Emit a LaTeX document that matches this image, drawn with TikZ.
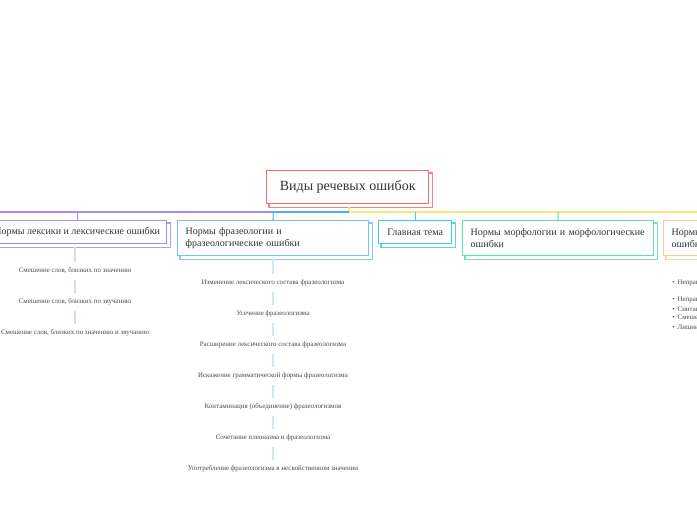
\documentclass[tikz,border=0pt]{standalone}
\usepackage{fontspec}
\setmainfont{Liberation Serif}
\usetikzlibrary{backgrounds}
\definecolor{rootred}{HTML}{F26C6C}
\definecolor{lav}{HTML}{A38CF6}
\definecolor{lavlight}{HTML}{DDD6FB}
\definecolor{mag}{HTML}{C77FE8}
\definecolor{skyb}{HTML}{7DBDF7}
\definecolor{skyline}{HTML}{5AAAF0}
\definecolor{skylight}{HTML}{CFE6FB}
\definecolor{teal1}{HTML}{3ACFDB}
\definecolor{mint}{HTML}{62DDB8}
\definecolor{orng}{HTML}{FFC6A0}
\definecolor{yel}{HTML}{F5E97A}
\definecolor{txt}{HTML}{333333}
\definecolor{subtxt}{HTML}{4A4A4A}
\begin{document}
\begin{tikzpicture}[x=0.75pt,y=-0.75pt,
  box/.style={draw, line width=1.1pt, fill=white, anchor=north west, inner ysep=0pt, text=txt,
    font=\fontsize{7.5}{9.5}\selectfont, minimum height=17.25pt},
  onebox/.style={box, align=center, inner xsep=0pt},
  twobox/.style={box, align=left, inner xsep=6pt, text width=131.25pt, minimum height=26.25pt},
  subitem/.style={font=\fontsize{5.2}{6}\selectfont, text=subtxt, inner xsep=0pt, inner ysep=4pt},
  rightitem/.style={font=\fontsize{5.2}{6}\selectfont, text=subtxt, inner sep=0pt, anchor=west},
  conn/.style={line width=0.8pt},
  subconn/.style={line width=1.1pt}]
\useasboundingbox (0,0) rectangle (697,520);

% root
\node[draw=rootred, line width=1.1pt, fill=white, anchor=north west, minimum width=121.5pt, minimum height=24.75pt,
  inner sep=0pt, text=txt, font=\fontsize{10.5}{12}\selectfont] (root) at (266,170) {Виды речевых ошибок};

% children
\node[onebox, draw=lav, minimum width=134.25pt] (lex) at (-13,220) {Нормы лексики и лексические ошибки};
\node[twobox, draw=skyb] (phr) at (177,220) {Нормы фразеологии и\\фразеологические ошибки};
\node[onebox, draw=teal1, minimum width=54.75pt] (glav) at (378,220) {Главная тема};
\node[twobox, draw=mint] (morph) at (462,220) {Нормы морфологии и морфологические\\ошибки};
\node[twobox, draw=orng] (synt) at (663,220) {Нормы синтаксиса и синтаксические\\ошибки};

% background and shadows
\begin{scope}[on background layer]
\fill[white] (0,0) rectangle (697,520);
\foreach \n/\c in {root/rootred, lex/lav, phr/skyb, glav/teal1, morph/mint, synt/orng}{
  \draw[\c!85, line width=1.1pt, fill=white]
    ([xshift=2.25pt,yshift=-2.25pt]\n.north west) rectangle ([xshift=2.25pt,yshift=-2.25pt]\n.south east);
}
\end{scope}

% trunk
\coordinate (hub) at (349,212);
\coordinate (lend) at (0,212);
\coordinate (rend) at (697,212);
\draw[conn, yel] (root.south -| hub) ++(0,3) -- (hub);
\draw[conn, yel] (hub) -- (rend);
\draw[conn, skyline] (hub) -- (phr.north |- hub);
\draw[conn, lav] (phr.north |- hub) -- (lex.north |- hub);
\draw[conn, mag] (lex.north |- hub) -- (lend);
\draw[conn, lav] (lex.north |- hub) -- (lex.north);
\draw[conn, skyline] (phr.north |- hub) -- (phr.north -| 273,0);
\draw[conn, teal1] (glav.north |- hub) -- (glav.north);
\draw[conn, mint] (morph.north |- hub) -- (morph.north -| 558,0);

% lexic items
\node[subitem] (l1) at (75,271) {Смешение слов, близких по значению};
\node[subitem] (l2) at (75,302) {Смешение слов, близких по звучанию};
\node[subitem] (l3) at (75,333) {Смешение слов, близких по значению и звучанию};
\draw[subconn, lavlight] ([yshift=-2.25pt]lex.south -| l1.north) -- (l1.north);
\draw[subconn, lavlight] (l1.south) -- (l2.north);
\draw[subconn, lavlight] (l2.south) -- (l3.north);

% phraseology items
\node[subitem] (p1) at (273,283) {Изменение лексического состава фразеологизма};
\node[subitem] (p2) at (273,314) {Усечение фразеологизма};
\node[subitem] (p3) at (273,345) {Расширение лексического состава фразеологизма};
\node[subitem] (p4) at (273,376) {Искажение грамматической формы фразеологизма};
\node[subitem] (p5) at (273,407) {Контаминация (объединение) фразеологизмов};
\node[subitem] (p6) at (273,438) {Сочетание плеоназма и фразеологизма};
\node[subitem] (p7) at (273,469) {Употребление фразеологизма в несвойственном значении};
\draw[subconn, skylight] ([yshift=-2.25pt]phr.south -| p1.north) -- (p1.north);
\foreach \a/\b in {p1/p2, p2/p3, p3/p4, p4/p5, p5/p6, p6/p7}{
  \draw[subconn, skylight] (\a.south) -- (\b.north);
}

% syntax items (cut off at right edge, as in the reference)
\node[rightitem] (r1) at (672,283) {•\hspace{2.2pt}Неправильное построение предложения};
\node[rightitem] (r2) at (672,300) {•\hspace{2.2pt}Неправильное согласование};
\node[rightitem] (r3) at (672,309) {•\hspace{2.2pt}Синтаксическая неполнота};
\node[rightitem] (r4) at (672,318) {•\hspace{2.2pt}Смешение конструкций};
\node[rightitem] (r5) at (672,327) {•\hspace{2.2pt}Лишние слова};
\end{tikzpicture}
\end{document}
